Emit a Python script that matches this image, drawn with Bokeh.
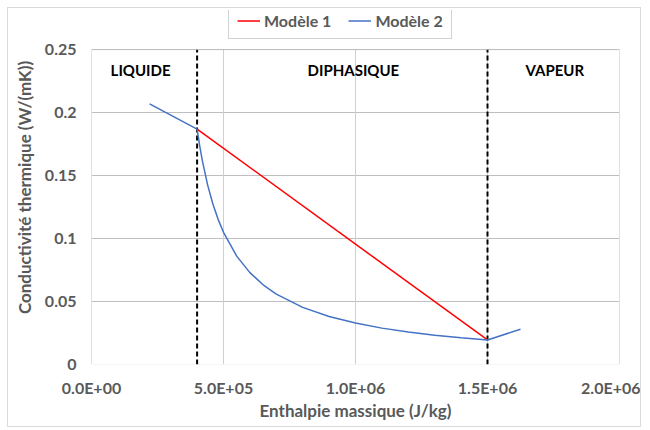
from bokeh.plotting import figure
from bokeh.models import Legend, LegendItem, FixedTicker, ColumnDataSource, BoxAnnotation
from bokeh.core.properties import value
from bokeh.embed import file_html
from bokeh.resources import INLINE

# Modèle 1 : linear interpolation across the two-phase region
m1_h = [4.0e5, 1.5e6]
m1_k = [0.187, 0.0195]

# Modèle 2 : liquid, two-phase and vapour parts
m2_h = [2.2e5, 4.0e5, 4.1e5, 4.2e5, 4.4e5, 4.6e5, 4.8e5, 5.0e5, 5.5e5, 6.0e5,
        6.5e5, 7.0e5, 8.0e5, 9.0e5, 1.0e6, 1.1e6, 1.2e6, 1.3e6, 1.4e6, 1.5e6,
        1.625e6]
m2_k = [0.207, 0.187, 0.1734, 0.1617, 0.1425, 0.1273, 0.1151, 0.1050, 0.0861, 0.0730,
        0.0633, 0.0559, 0.0454, 0.0381, 0.0329, 0.0289, 0.0258, 0.0233, 0.0212, 0.0195,
        0.0280]

phase_bounds = [4.0e5, 1.5e6]
region_names = ["LIQUIDE", "DIPHASIQUE", "VAPEUR"]
region_x = [1.86e5, 9.92e5, 1.755e6]
region_y = [0.2341, 0.2341, 0.2341]

x_ticks = [0.0, 5.0e5, 1.0e6, 1.5e6, 2.0e6]
x_tick_labels = ["0.0E+00", "5.0E+05", "1.0E+06", "1.5E+06", "2.0E+06"]
y_ticks = [0.0, 0.05, 0.1, 0.15, 0.2, 0.25]
y_tick_labels = ["0", "0.05", "0.1", "0.15", "0.2", "0.25"]

FONT = "Lato"
GREY = "#595959"
X_MAX = x_ticks[-1]
Y_MAX = y_ticks[-1]

# frame extends above the plot area to host the legend
p = figure(width=634, height=420, x_range=(0, X_MAX), y_range=(0, 0.2812),
           output_backend="svg", toolbar_location=None,
           min_border_left=83, min_border_right=23, min_border_top=2, min_border_bottom=64)
p.styles = {"border": "1px solid #d9d9d9", "margin": "7px 0 0 7px"}
p.outline_line_color = None
p.background_fill_color = "white"
p.border_fill_color = "white"

for ax in (p.xaxis, p.yaxis):
    ax.axis_line_color = None
    ax.major_tick_line_color = None
    ax.minor_tick_line_color = None
    ax.major_tick_out = 0
    ax.major_tick_in = 0
    ax.minor_tick_out = 0
    ax.major_label_text_font = FONT
    ax.major_label_text_font_size = "16px"
    ax.major_label_text_font_style = "bold"
    ax.major_label_text_color = GREY
    ax.axis_label_text_font = FONT
    ax.axis_label_text_font_size = "17px"
    ax.axis_label_text_font_style = "bold"
    ax.axis_label_text_color = GREY

p.xaxis.ticker = FixedTicker(ticks=x_ticks)
p.xaxis.major_label_overrides = dict(zip(x_ticks, x_tick_labels))
p.yaxis.ticker = FixedTicker(ticks=y_ticks)
p.yaxis.major_label_overrides = dict(zip(y_ticks, y_tick_labels))
p.yaxis.bounds = (0, Y_MAX)
p.xaxis.axis_label = "Enthalpie massique (J/kg)"
p.yaxis.axis_label = "Conductivité thermique (W/(mK))"
p.xaxis.major_label_standoff = 13
p.yaxis.major_label_standoff = 15
p.xaxis.axis_label_standoff = 0
p.yaxis.axis_label_standoff = 7

# gridlines limited to the plot area
p.xgrid.grid_line_color = None
p.ygrid.grid_line_color = "#bfbfbf"
p.segment(x0=x_ticks, y0=[y_ticks[0]] * len(x_ticks), x1=x_ticks, y1=[Y_MAX] * len(x_ticks),
          line_color="#d0d0d0", line_width=1)

# plot-area border
p.add_layout(BoxAnnotation(left=0, right=X_MAX, bottom=0, top=Y_MAX,
                           fill_color=None, line_color="#bfbfbf", line_width=1))

# phase boundaries
p.segment(x0=phase_bounds, y0=[0] * len(phase_bounds), x1=phase_bounds,
          y1=[Y_MAX] * len(phase_bounds), line_color="black", line_width=2, line_dash="5 3")

r1 = p.line(m1_h, m1_k, line_color="#ff0000", line_width=1.5)
r2 = p.line(m2_h, m2_k, line_color="#4472c4", line_width=1.5)

src = ColumnDataSource(dict(x=region_x, y=region_y, t=region_names))
p.text(x="x", y="y", text="t", source=src, text_font=value(FONT),
       text_font_size="15px", text_font_style="bold", text_color="black",
       text_align="center", text_baseline="middle")

legend = Legend(items=[LegendItem(label="Modèle 1", renderers=[r1]),
                       LegendItem(label="Modèle 2", renderers=[r2])],
                location=(137, 325), orientation="horizontal",
                border_line_color="#a6a6a6", border_line_width=1,
                background_fill_color="white", background_fill_alpha=1,
                label_text_font=FONT, label_text_font_size="16px",
                label_text_font_style="bold", label_text_color=GREY,
                glyph_width=23, glyph_height=17, label_height=17, label_standoff=4,
                spacing=17, padding=8, margin=0)
p.add_layout(legend)

open("out.html", "w").write(file_html(p, INLINE))
